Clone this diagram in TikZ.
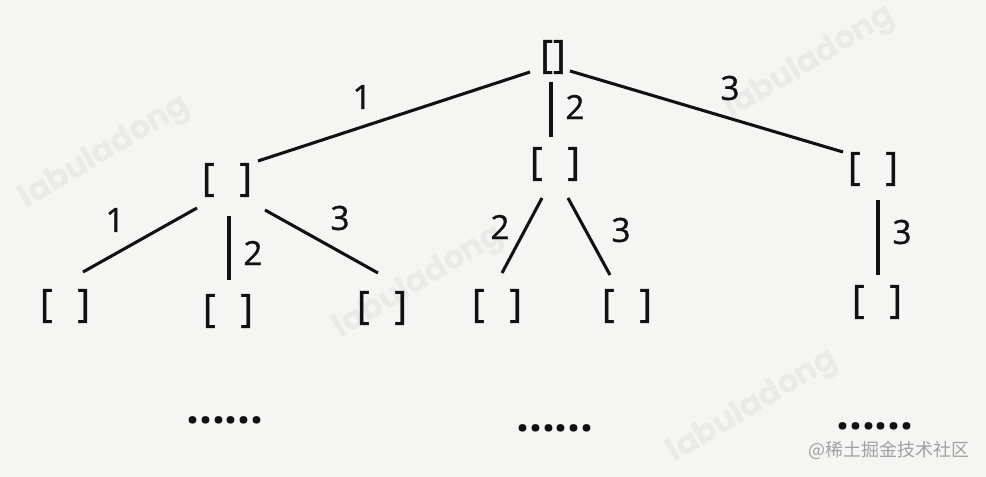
\documentclass[tikz,border=0pt]{standalone}
\usepackage{fontspec}
\setmainfont{Open Sans}
\newfontfamily\inkfont{Open Sans}[FakeBold=0.9]
\newfontfamily\wmfont{Poppins}
\newfontfamily\cjkfont{Noto Sans CJK SC}
\usetikzlibrary{calc}
\definecolor{paper}{RGB}{245,245,243}
\definecolor{wm}{RGB}{234,234,232}
\definecolor{ink}{RGB}{17,17,17}
\definecolor{siteg}{RGB}{160,160,160}
\newcommand{\brgap}{\hspace{0.64em}}
\begin{document}
\begin{tikzpicture}[x=0.75pt,y=-0.75pt,
  br/.style={inner sep=0pt, font=\inkfont\fontsize{29}{31}\selectfont, text=ink},
  lbl/.style={inner sep=0pt, font=\inkfont\fontsize{25}{28}\selectfont, text=ink},
  edge/.style={draw=ink, line width=2.3pt},
  more/.style={inner sep=0pt, font=\bfseries\fontsize{34}{36}\selectfont, text=ink},
  wmark/.style={inner sep=0pt, rotate=31, text=wm, font=\wmfont\bfseries\fontsize{24}{30}\selectfont},
  site/.style={inner sep=0pt, text=siteg, font=\cjkfont\fontsize{13.5}{15}\selectfont}]
\useasboundingbox (0,0) rectangle (986,477);
\fill[paper] (0,0) rectangle (986,477);
% watermarks
\node[wmark] (w1) at (105,153) {labuladong};
\node[wmark] (w2) at (419,283) {labuladong};
\node[wmark] (w3) at (810,63) {labuladong};
\node[wmark] (w4) at (753,407) {labuladong};
\node[site] (site) at (889,450) {@稀土掘金技术社区};
% tree nodes
\node[br] (root) at (553,57) {[]};
\node[br] (L1) at (227,180) {[\brgap]};
\node[br] (M1) at (555,164) {[\brgap]};
\node[br] (R1) at (873,169) {[\brgap]};
\node[br] (LL) at (65,306) {[\brgap]};
\node[br] (LM) at (228,311) {[\brgap]};
\node[br] (LR) at (382,308) {[\brgap]};
\node[br] (ML) at (497,306) {[\brgap]};
\node[br] (MR) at (627,306) {[\brgap]};
\node[br] (RR) at (877,302) {[\brgap]};
% edges
\draw[edge] ($(root)+(-23,15)$) -- ($(L1)+(31,-19)$);
\draw[edge] ($(root)+(-2,25)$) -- ($(M1)+(-4,-27)$);
\draw[edge] ($(root)+(17,14)$) -- ($(R1)+(-30,-17)$);
\draw[edge] ($(L1)+(-30,28)$) -- ($(LL)+(18,-34)$);
\draw[edge] ($(L1)+(2,36)$) -- ($(LM)+(1,-31)$);
\draw[edge] ($(L1)+(38,30)$) -- ($(LR)+(-4,-35)$);
\draw[edge] ($(M1)+(-13,34)$) -- ($(ML)+(5,-33)$);
\draw[edge] ($(M1)+(13,34)$) -- ($(MR)+(-17,-31)$);
\draw[edge] ($(R1)+(5,31)$) -- ($(RR)+(1,-27)$);
% labels
\node[lbl] (e1) at (362,97) {1};
\node[lbl] (e2) at (575,107) {2};
\node[lbl] (e3) at (730,88) {3};
\node[lbl] (e4) at (115,220) {1};
\node[lbl] (e5) at (253,253) {2};
\node[lbl] (e6) at (340,218) {3};
\node[lbl] (e7) at (500,227) {2};
\node[lbl] (e8) at (621,230) {3};
\node[lbl] (e9) at (902,232) {3};
% continuation dots
\node[more] (d1) at (225,420) {......};
\node[more] (d2) at (555,428) {......};
\node[more] (d3) at (875,426) {......};
\end{tikzpicture}
\end{document}
